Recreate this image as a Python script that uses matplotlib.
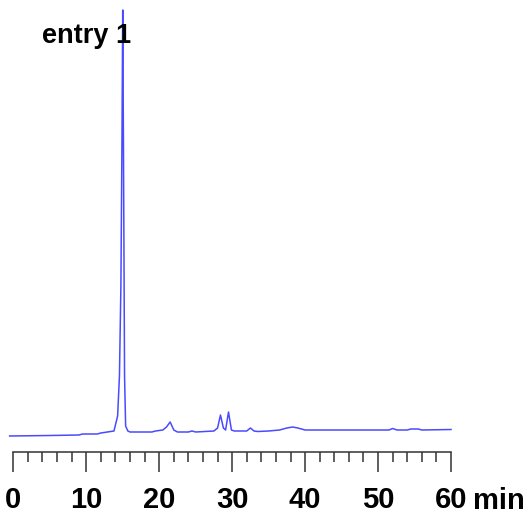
import numpy as np
import matplotlib.pyplot as plt
from matplotlib.ticker import MultipleLocator

plt.rcParams['font.family'] = ['Liberation Sans', 'DejaVu Sans']

# Retention time (min) and detector signal (arbitrary units) of the trace
time = [-0.5, 5.0, 9.0, 9.5, 11.5, 12.0, 13.8, 14.3, 14.55, 14.75, 14.9, 15.0,
        15.1, 15.25, 15.4, 15.7, 16.0, 19.0, 19.5, 20.5, 21.0, 21.5, 22.0, 22.5,
        24.0, 24.5, 25.0, 27.5, 28.0, 28.4, 28.8, 29.1, 29.5, 29.9, 30.3, 32.0,
        32.5, 33.0, 33.5, 35.0, 36.5, 37.5, 38.3, 39.0, 40.0, 51.5, 52.0, 52.6,
        54.0, 54.5, 55.5, 56.0, 60.0]
signal = [0.0, 0.5, 1.0, 2.0, 2.0, 3.0, 5.0, 20.0, 60.0, 150.0, 300.0, 426.0,
          290.0, 60.0, 10.0, 5.0, 4.0, 4.0, 5.0, 6.0, 9.0, 14.0, 6.0, 4.0,
          4.0, 5.0, 4.0, 5.0, 8.0, 21.0, 8.0, 6.0, 24.0, 6.0, 5.0, 5.0,
          8.0, 5.0, 4.5, 5.0, 6.0, 8.0, 9.0, 8.0, 6.0, 6.0, 7.5, 6.0,
          6.0, 7.0, 7.0, 6.0, 6.5]

fig = plt.figure(figsize=(5.3, 5.15), dpi=100)
ax = fig.add_axes([13.3 / 530, 63 / 515, (451 - 13.3) / 530, 442 / 515])

ax.plot(time, signal, color='#4a4aff', lw=1.1, clip_on=False)

ax.set_xlim(0, 60)
ax.set_ylim(-16, 426)

for side in ['top', 'right', 'left']:
    ax.spines[side].set_visible(False)
ax.spines['bottom'].set_linewidth(1.1)
ax.spines['bottom'].set_color('#333333')
ax.set_yticks([])

ax.xaxis.set_major_locator(MultipleLocator(10))
ax.xaxis.set_minor_locator(MultipleLocator(2))
ax.tick_params(axis='x', which='major', direction='out', length=14.4, width=1.1,
               color='#333333', pad=10, labelsize=21)
ax.tick_params(axis='x', which='minor', direction='out', length=7.2, width=1.1,
               color='#333333')
for lbl in ax.get_xticklabels():
    lbl.set_fontweight('bold')

# unit label sits on the same line as the tick labels
fig.text(473 / 530, 28 / 515, 'min', fontsize=21, fontweight='bold', va='top')
fig.text(42 / 530, (515 - 43) / 515, 'entry 1', fontsize=19.5, fontweight='bold',
         va='baseline')

fig.savefig('out.png', dpi=100)
